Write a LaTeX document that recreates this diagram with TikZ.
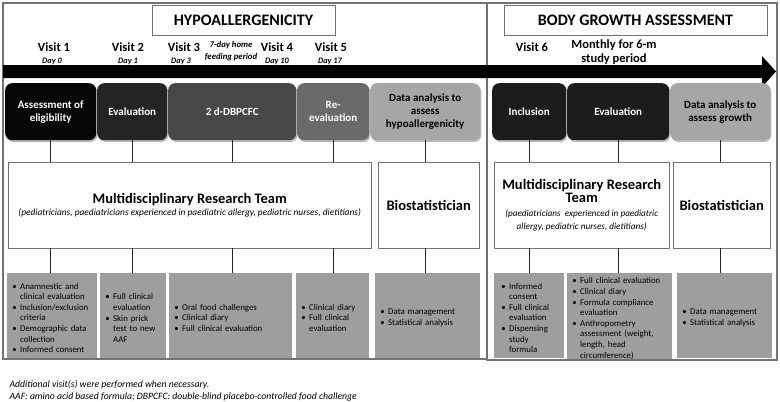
\documentclass[tikz,border=0pt]{standalone}
\usepackage{fontspec}
\setmainfont{Carlito}
\usepackage{enumitem}
\usetikzlibrary{shapes, arrows.meta, positioning, shadows}

\definecolor{framegray}{RGB}{115,115,115}
\definecolor{actgray}{RGB}{158,158,158}
\definecolor{phaseA}{RGB}{6,6,6}
\definecolor{phaseB}{RGB}{36,36,36}
\definecolor{phaseC}{RGB}{72,72,72}
\definecolor{phaseD}{RGB}{106,106,106}
\definecolor{phaseE}{RGB}{166,166,166}
\definecolor{phaseF}{RGB}{28,28,28}

\newlist{acts}{itemize}{1}
\setlist[acts]{nosep, leftmargin=8pt, labelsep=3.5pt, label=\textbullet}
\hyphenpenalty=10000
\exhyphenpenalty=10000

\tikzset{
  frameline/.style={draw=framegray, line width=1.1pt},
  titlebox/.style={draw=framegray, fill=white, minimum height=30pt,
    font=\fontsize{16}{18}\selectfont\bfseries},
  visit/.style={font=\fontsize{12.5}{14}\selectfont\bfseries, align=center},
  day/.style={font=\fontsize{8.3}{9}\selectfont\bfseries\itshape},
  phase/.style={anchor=north west, rounded corners=7pt, minimum height=57pt,
    inner sep=2pt, align=center, text=white,
    font=\fontsize{11}{13}\selectfont\bfseries,
    drop shadow={opacity=0.55, shadow xshift=1.2pt, shadow yshift=-1.8pt}},
  team/.style={anchor=north west, draw=framegray, fill=white, minimum height=86pt,
    align=center, font=\fontsize{9.4}{12.5}\selectfont\itshape},
  act/.style={anchor=north west, fill=actgray, minimum height=85pt, inner xsep=5pt,
    inner ysep=0pt, align=left, text=black, font=\fontsize{8.8}{10.6}\selectfont},
  conn/.style={draw=black!85, line width=0.6pt},
  note/.style={anchor=west, font=\fontsize{9.7}{11}\selectfont\itshape}
}
\newcommand{\teamfont}{\fontsize{14.5}{15}\selectfont\bfseries\upshape}

\begin{document}
\begin{tikzpicture}[x=1pt, y=-1pt]
\useasboundingbox (0,0) rectangle (780,402);

% the two study parts
\draw[frameline] (3,3) rectangle (487,359);
\draw[frameline] (487,3) rectangle (777,360);
\node[titlebox, minimum width=183pt] (hypo) at (243.5,20) {HYPOALLERGENICITY};
\node[titlebox, minimum width=263pt] (growth) at (635.5,20) {BODY GROWTH ASSESSMENT};

% time line
\fill[black] (3,65) -- (762,65) -- (762,56) -- (776,71.5) -- (762,87) -- (762,78) -- (3,78) -- cycle;

% visits
\node[visit] (v1) at (54,47) {Visit 1};
\node[day] (d1) at (52,61) {Day 0};
\node[visit] (v2) at (128,47) {Visit 2};
\node[day] (d2) at (128,61) {Day 1};
\node[visit] (v3) at (184,47) {Visit 3};
\node[day] (d3) at (181,61) {Day 3};
\node[day, font=\fontsize{8.7}{12.5}\selectfont\bfseries\itshape, align=center] (home) at (231,51) {7-day home\\feeding period};
\node[visit] (v4) at (277,47) {Visit 4};
\node[day] (d4) at (277,61) {Day 10};
\node[visit] (v5) at (331,47) {Visit 5};
\node[day] (d5) at (330,61) {Day 17};
\node[visit] (v6) at (532,47) {Visit 6};
\node[visit, font=\fontsize{12.5}{14}\selectfont\bfseries] (month) at (614,52) {Monthly for 6-m\\study period};

% phases
\node[phase, fill=phaseA, minimum width=91pt] (elig) at (5,83) {Assessment of\\eligibility};
\node[phase, fill=phaseB, minimum width=70pt] (eval1) at (97,83) {Evaluation};
\node[phase, fill=phaseC, minimum width=128pt] (dbpcfc) at (168,83) {2 d-DBPCFC};
\node[phase, fill=phaseD, minimum width=72pt] (reeval) at (297,83) {Re-\\evaluation};
\node[phase, fill=phaseE, text=black, minimum width=110pt] (ana1) at (370,83) {Data analysis to\\assess\\hypoallergenicity};
\node[phase, fill=phaseF, minimum width=74pt] (incl) at (492,83) {Inclusion};
\node[phase, fill=phaseF, minimum width=102pt] (eval2) at (567,83) {Evaluation};
\node[phase, fill=phaseE, text=black, minimum width=100pt] (ana2) at (670,83) {Data analysis to\\assess growth};

% who does it
\node[team, minimum width=363pt] (team1) at (8,162)
  {{\teamfont Multidisciplinary Research Team}\\(pediatricians, paediatricians experienced in paediatric allergy, pediatric nurses, dietitians)};
\node[team, minimum width=101pt] (bio1) at (378,162) {\teamfont Biostatistician};
\node[team, minimum width=175pt, font=\fontsize{9.2}{13.5}\selectfont\itshape] (team2) at (494,162)
  {{\teamfont Multidisciplinary Research}\\{\teamfont Team}\\(paediatricians\ \ experienced in paediatric\\allergy, pediatric nurses, dietitians)};
\node[team, minimum width=97pt] (bio2) at (673,162) {\teamfont Biostatistician};

% what is done
\node[act, text width=80pt] (act1) at (7,273) {\begin{acts}
  \item Anamnestic and clinical evaluation
  \item Inclusion/exclusion criteria
  \item Demographic data collection
  \item Informed consent
\end{acts}};
\node[act, text width=56pt] (act2) at (100,273) {\begin{acts}
  \item Full clinical evaluation
  \item Skin prick test to new AAF
\end{acts}};
\node[act, text width=113pt] (act3) at (169,273) {\begin{acts}
  \item Oral food challenges
  \item Clinical diary
  \item Full clinical evaluation
\end{acts}};
\node[act, text width=63pt] (act4) at (296,273) {\begin{acts}
  \item Clinical diary
  \item Full clinical evaluation
\end{acts}};
\node[act, text width=95pt] (act5) at (375,273) {\begin{acts}
  \item Data management
  \item Statistical analysis
\end{acts}};
\node[act, text width=56pt, minimum width=70pt] (act6) at (494,273) {\begin{acts}
  \item Informed consent
  \item Full clinical evaluation
  \item Dispensing study formula
\end{acts}};
\node[act, text width=95pt] (act7) at (567,273) {\begin{acts}
  \item Full clinical evaluation
  \item Clinical diary
  \item Formula compliance evaluation
  \item Anthropometry assessment (weight, length, head circumference)
\end{acts}};
\node[act, text width=85pt] (act8) at (677,273) {\begin{acts}
  \item Data management
  \item Statistical analysis
\end{acts}};

% links
\foreach \p/\t/\a in {elig/team1/act1, eval1/team1/act2, dbpcfc/team1/act3, reeval/team1/act4,
    ana1/bio1/act5, incl/team2/act6, eval2/team2/act7, ana2/bio2/act8} {
  \draw[conn] (\p.south) -- (\p.south |- \t.north);
  \draw[conn] (\p.south |- \t.south) -- (\p.south |- \a.north);
}

\node[note] (note1) at (6,385) {Additional visit(s) were performed when necessary.};
\node[note] (note2) at (6,397) {AAF: amino acid based formula; DBPCFC: double-blind placebo-controlled food challenge};
\end{tikzpicture}
\end{document}
